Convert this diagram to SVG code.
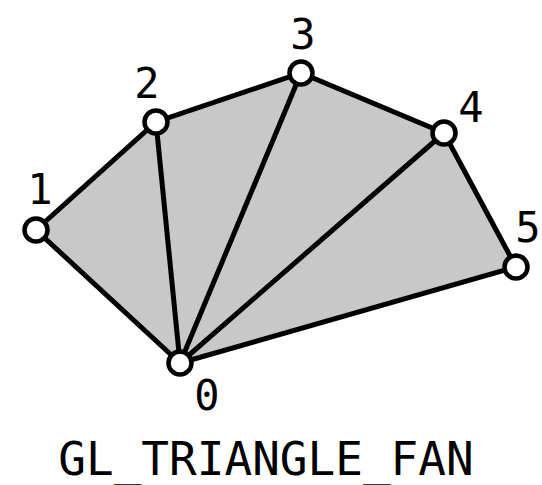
<svg xmlns="http://www.w3.org/2000/svg" width="542" height="485" viewBox="0 0 542 485">
<style>
.edge{stroke:#000;stroke-width:5;fill:none;stroke-linecap:round}
.v{fill:#fff;stroke:#000;stroke-width:4.5}
.lbl{font-family:"DejaVu Sans Mono",monospace;font-size:42px;text-anchor:middle;fill:#000}
.title{font-family:"DejaVu Sans Mono",monospace;font-size:46px;text-anchor:middle;fill:#000}
</style>
<rect width="542" height="485" fill="#fff"/>
<polygon points="180,363 36,230 156,122 301,73 444,133 516,267" fill="#c8c8c8"/>
<g id="connectors">
<polyline class="edge" points="180,363 36,230 156,122 301,73 444,133 516,267 180,363"/>
<line class="edge" x1="180" y1="363" x2="156" y2="122"/>
<line class="edge" x1="180" y1="363" x2="301" y2="73"/>
<line class="edge" x1="180" y1="363" x2="444" y2="133"/>
</g>
<g id="v0"><circle class="v" cx="180" cy="363" r="11.5"/><text class="lbl" x="207" y="410">0</text></g>
<g id="v1"><circle class="v" cx="36" cy="230" r="11.5"/><text class="lbl" x="40" y="204">1</text></g>
<g id="v2"><circle class="v" cx="156" cy="122" r="11.5"/><text class="lbl" x="147" y="98">2</text></g>
<g id="v3"><circle class="v" cx="301" cy="73" r="11.5"/><text class="lbl" x="303" y="49">3</text></g>
<g id="v4"><circle class="v" cx="444" cy="133" r="11.5"/><text class="lbl" x="471" y="122">4</text></g>
<g id="v5"><circle class="v" cx="516" cy="267" r="11.5"/><text class="lbl" x="528" y="242">5</text></g>
<text id="title" class="title" x="266" y="475">GL_TRIANGLE_FAN</text>
</svg>
